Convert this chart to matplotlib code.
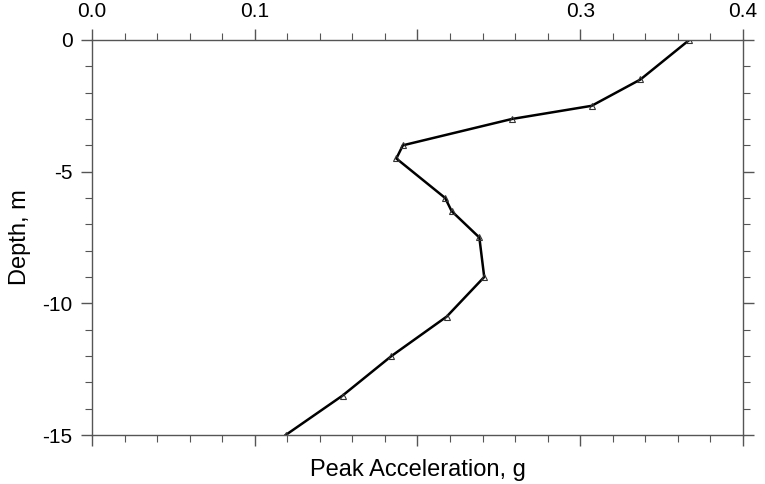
import matplotlib
matplotlib.use("Agg")
import matplotlib.pyplot as plt
from matplotlib.ticker import MultipleLocator

plt.rcParams['font.family'] = ['Liberation Sans', 'DejaVu Sans']

# peak acceleration profile
accel = [0.367, 0.337, 0.307, 0.258, 0.191, 0.187, 0.217, 0.221,
         0.238, 0.241, 0.218, 0.184, 0.154, 0.119]
depth = [0.0, -1.5, -2.5, -3.0, -4.0, -4.5, -6.0, -6.5,
         -7.5, -9.0, -10.5, -12.0, -13.5, -15.0]

xticks = [0.0, 0.1, 0.2, 0.3, 0.4]
xlabels = ['0.0', '0.1', '', '0.3', '0.4']
yticks = [0, -5, -10, -15]

fig = plt.figure(figsize=(7.65, 4.84), dpi=100)
ax = fig.add_axes([0.1203, 0.1012, 0.8509, 0.8162])

ax.plot(accel, depth, color='black', lw=1.8, marker='^', ms=5,
        mfc='none', mec='#333333', mew=0.8)

ax.set_xlim(0.0, 0.4)
ax.set_ylim(-15, 0)
ax.set_xticks(xticks)
ax.set_xticklabels(xlabels)
ax.set_yticks(yticks)
ax.set_yticklabels([str(v) for v in yticks])
ax.xaxis.set_minor_locator(MultipleLocator(0.02))
ax.yaxis.set_minor_locator(MultipleLocator(1))

for s in ax.spines.values():
    s.set_color('#555555')
    s.set_linewidth(1.0)

ax.tick_params(which='both', direction='out', colors='#555555',
               top=True, bottom=True, left=True, right=True,
               labeltop=True, labelbottom=False, labelsize=15)
ax.tick_params(which='major', length=8, width=1.0, labelcolor='black')
ax.tick_params(which='minor', length=5, width=0.8)
ax.tick_params(axis='x', pad=6)
ax.tick_params(axis='y', pad=6)

ax.set_xlabel('Peak Acceleration, g', fontsize=17, labelpad=9)
ax.xaxis.set_label_position('bottom')
ax.set_ylabel('Depth, m', fontsize=17, labelpad=8)

fig.savefig('out.png', dpi=100)
